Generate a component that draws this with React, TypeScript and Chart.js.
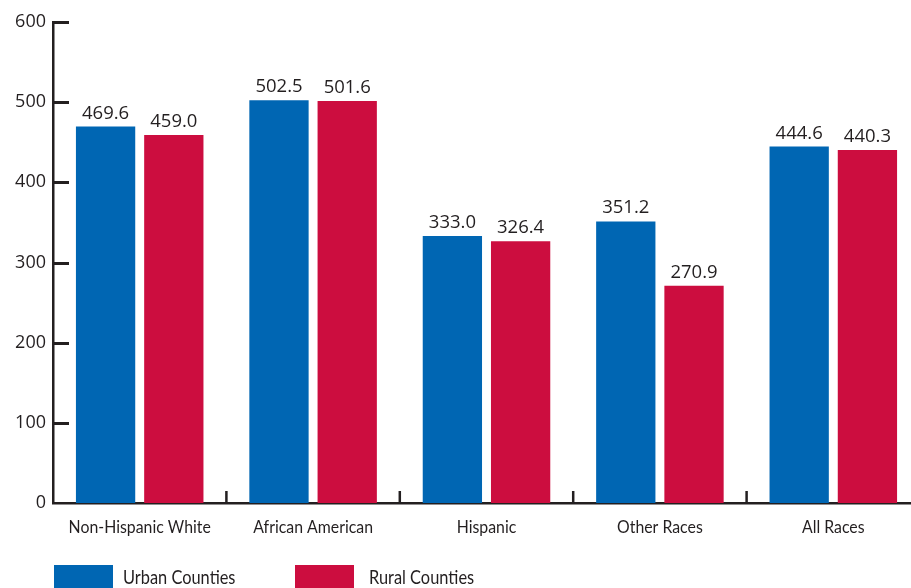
import React, { useEffect, useRef } from "react";
import { Chart, registerables } from "chart.js";

Chart.register(...registerables);

// Rates by race/ethnicity, urban vs rural counties
const categories = ["Non-Hispanic White", "African American", "Hispanic", "Other Races", "All Races"];
const urbanValues = [469.6, 502.5, 333.0, 351.2, 444.6];
const ruralValues = [459.0, 501.6, 326.4, 270.9, 440.3];
const seriesNames = ["Urban Counties", "Rural Counties"];
const yMin = 0;
const yMax = 600;
const yStep = 100;

const BLUE = "#0066b3";
const RED = "#cc0d3f";
const INK = "#231f20";
const NUM_FONT = '"Open Sans", "Noto Sans", sans-serif';
const TEXT_FONT = 'Lato, "Open Sans", sans-serif';

// Draws text squeezed horizontally to get a condensed look
function drawCondensed(ctx: CanvasRenderingContext2D, text: string, x: number, y: number, squeeze: number, align: "left" | "center") {
  ctx.save();
  ctx.translate(x, y);
  ctx.scale(squeeze, 1);
  ctx.textAlign = align;
  ctx.fillText(text, 0, 0);
  ctx.restore();
}

// Axis lines, inward value ticks and category separators
const axisMarks = {
  id: "axisMarks",
  afterDatasetsDraw(chart: any) {
    const { ctx, chartArea, scales } = chart;
    const y = scales.y;
    const x = scales.x;
    ctx.save();
    ctx.strokeStyle = INK;
    ctx.lineWidth = 3;
    y.ticks.forEach((t: any) => {
      if (t.value === yMin) return;
      const py = Math.round(y.getPixelForValue(t.value)) + 0.5;
      ctx.beginPath();
      ctx.moveTo(chartArea.left, py);
      ctx.lineTo(chartArea.left + 16, py);
      ctx.stroke();
    });
    ctx.lineWidth = 2.5;
    for (let i = 1; i < categories.length; i++) {
      const px = (x.getPixelForValue(i - 1) + x.getPixelForValue(i)) / 2;
      ctx.beginPath();
      ctx.moveTo(px, chartArea.bottom - 12);
      ctx.lineTo(px, chartArea.bottom);
      ctx.stroke();
    }
    ctx.restore();
  },
};

// Category names under the axis
const categoryLabels = {
  id: "categoryLabels",
  afterDraw(chart: any) {
    const { ctx, chartArea, scales } = chart;
    ctx.save();
    ctx.fillStyle = INK;
    ctx.font = `18px ${TEXT_FONT}`;
    ctx.textBaseline = "alphabetic";
    (chart.data.labels as string[]).forEach((lab, i) => {
      drawCondensed(ctx, lab, scales.x.getPixelForValue(i), chartArea.bottom + 30, 0.88, "center");
    });
    ctx.restore();
  },
};

// Value labels above each bar
const valueLabels = {
  id: "valueLabels",
  afterDatasetsDraw(chart: any) {
    const { ctx } = chart;
    ctx.save();
    ctx.fillStyle = INK;
    ctx.font = `18.5px ${NUM_FONT}`;
    ctx.textAlign = "center";
    ctx.textBaseline = "alphabetic";
    chart.data.datasets.forEach((ds: any, di: number) => {
      const meta = chart.getDatasetMeta(di);
      meta.data.forEach((bar: any, i: number) => {
        ctx.fillText(Number(ds.data[i]).toFixed(1), bar.x, bar.y - 8);
      });
    });
    ctx.restore();
  },
};

// Legend row along the bottom edge
const bottomLegend = {
  id: "bottomLegend",
  afterDraw(chart: any) {
    const { ctx, chartArea } = chart;
    const boxW = 59;
    const boxH = 23;
    const top = 565;
    const itemStep = 241;
    ctx.save();
    ctx.font = `19.5px ${TEXT_FONT}`;
    ctx.textBaseline = "alphabetic";
    chart.data.datasets.forEach((ds: any, i: number) => {
      const left = chartArea.left + 1 + i * itemStep;
      ctx.fillStyle = ds.backgroundColor;
      ctx.fillRect(left, top, boxW, boxH);
      ctx.fillStyle = INK;
      drawCondensed(ctx, ds.label, left + boxW + 10 + i * 5, top + 18.5, 0.84, "left");
    });
    ctx.restore();
  },
};

export default function App() {
  const canvasRef = useRef<HTMLCanvasElement | null>(null);

  useEffect(() => {
    const canvas = canvasRef.current;
    if (!canvas) return;
    const chart = new Chart(canvas, {
      type: "bar",
      data: {
        labels: categories,
        datasets: [
          { label: seriesNames[0], data: urbanValues, backgroundColor: BLUE },
          { label: seriesNames[1], data: ruralValues, backgroundColor: RED },
        ],
      },
      options: {
        responsive: false,
        animation: false,
        devicePixelRatio: 1,
        layout: { padding: { top: 22, right: 5, left: 0, bottom: 0 } },
        datasets: {
          bar: { categoryPercentage: 0.787, barPercentage: 0.869 },
        },
        plugins: {
          legend: { display: false },
          tooltip: { enabled: false },
          title: { display: false },
        },
        scales: {
          x: {
            grid: { display: false, drawTicks: false },
            border: { display: true, color: INK, width: 2.5 },
            ticks: { display: false },
            afterFit(scale: any) {
              scale.height = 85;
            },
          },
          y: {
            min: yMin,
            max: yMax,
            grid: { display: false, drawTicks: false },
            border: { display: true, color: INK, width: 2.5 },
            ticks: {
              stepSize: yStep,
              color: INK,
              font: { family: NUM_FONT, size: 18 },
              padding: 7,
            },
            afterFit(scale: any) {
              scale.width = 53;
            },
          },
        },
      },
      plugins: [axisMarks, categoryLabels, valueLabels, bottomLegend],
    });
    return () => chart.destroy();
  }, []);

  return (
    <div
      style={{
        position: "fixed",
        left: 0,
        top: 0,
        width: 911,
        height: 588,
        overflow: "hidden",
        background: "#ffffff",
      }}
    >
      <canvas ref={canvasRef} width={925} height={588} style={{ display: "block" }} />
    </div>
  );
}
